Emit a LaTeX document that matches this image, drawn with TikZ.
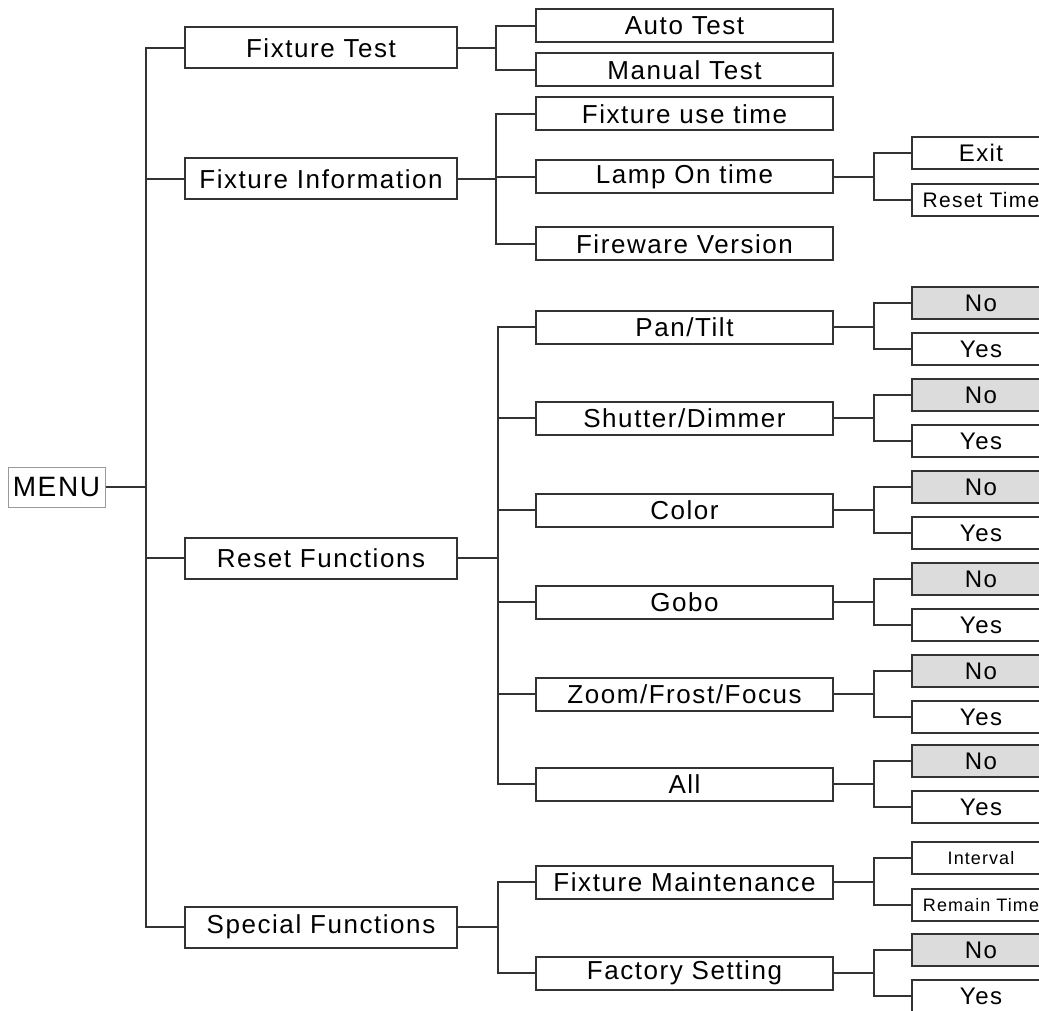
\documentclass[tikz,border=0pt]{standalone}
\usepackage{fontspec}
\setmainfont{Liberation Sans}[LetterSpace=6]
\usepackage{tikz}
\usetikzlibrary{positioning}
\definecolor{linegray}{HTML}{333333}
\definecolor{nogray}{HTML}{DCDCDC}
\tikzset{
  menubox/.style={rectangle,draw=black!40,line width=1pt,minimum width=97pt,minimum height=40pt,inner sep=0pt,font=\fontsize{28}{28}\selectfont},
  topbox/.style={rectangle,draw=linegray,line width=2pt,minimum width=272pt,minimum height=41pt,inner sep=0pt,font=\fontsize{26}{26}\selectfont},
  subbox/.style={rectangle,draw=linegray,line width=2pt,minimum width=297pt,minimum height=33pt,inner sep=0pt,font=\fontsize{26}{26}\selectfont},
  leafbox/.style={rectangle,draw=linegray,line width=2pt,minimum width=138pt,minimum height=32pt,inner sep=0pt,font=\fontsize{24}{24}\selectfont},
  nobox/.style={leafbox,fill=nogray},
  smallleaf/.style={leafbox,font=\fontsize{21}{21}\selectfont},
  tinyleaf/.style={leafbox,font=\fontsize{18}{18}\selectfont},
  link/.style={draw=linegray,line width=2pt}
}
\begin{document}
\begin{tikzpicture}[x=1pt,y=-1pt]
  \useasboundingbox (0,0) rectangle (1039,1011);
  \clip (0,0) rectangle (1039,1011);

  % main menu
  \node[menubox] (menu) at (56.5,487) {MENU};
  \node[topbox] (ftest) at (321,48) {Fixture Test};
  \node[topbox] (finfo) at (321,179) {Fixture Information};
  \node[topbox] (reset) at (321,558) {Reset Functions};
  \node[topbox] (special) at (321,927) {Special Functions};

  % second level
  \node[subbox] (auto) at (684.5,26) {Auto Test};
  \node[subbox] (manual) at (684.5,70) {Manual Test};
  \node[subbox] (usetime) at (684.5,114) {Fixture use time};
  \node[subbox] (lamp) at (684.5,177) {Lamp On time};
  \node[subbox] (firmware) at (684.5,244) {Fireware Version};
  \node[subbox] (pantilt) at (684.5,327) {Pan/Tilt};
  \node[subbox] (shutter) at (684.5,418) {Shutter/Dimmer};
  \node[subbox] (color) at (684.5,510) {Color};
  \node[subbox] (gobo) at (684.5,602) {Gobo};
  \node[subbox] (zoom) at (684.5,694) {Zoom/Frost/Focus};
  \node[subbox] (all) at (684.5,784) {All};
  \node[subbox] (maint) at (684.5,882) {Fixture Maintenance};
  \node[subbox] (factory) at (684.5,973) {Factory Setting};

  % third level
  \node[leafbox] (exit) at (981,153) {Exit};
  \node[smallleaf] (resettime) at (981,200) {Reset Time};
  \node[nobox] (ptno) at (981,303) {No};
  \node[leafbox] (ptyes) at (981,349) {Yes};
  \node[nobox] (shno) at (981,395) {No};
  \node[leafbox] (shyes) at (981,441) {Yes};
  \node[nobox] (colno) at (981,487) {No};
  \node[leafbox] (colyes) at (981,533) {Yes};
  \node[nobox] (gobono) at (981,579) {No};
  \node[leafbox] (goboyes) at (981,625) {Yes};
  \node[nobox] (zoomno) at (981,671) {No};
  \node[leafbox] (zoomyes) at (981,717) {Yes};
  \node[nobox] (allno) at (981,761) {No};
  \node[leafbox] (allyes) at (981,807) {Yes};
  \node[tinyleaf] (interval) at (981,858) {Interval};
  \node[tinyleaf] (remain) at (981,905) {Remain Time};
  \node[nobox] (facno) at (981,950) {No};
  \node[leafbox] (facyes) at (981,996) {Yes};

  % connectors
  \draw[link] (menu.east) -- ++(40,0) |- (ftest.west);
  \draw[link] (menu.east) -- ++(40,0) |- (finfo.west);
  \draw[link] (menu.east) -- ++(40,0) |- (reset.west);
  \draw[link] (menu.east) -- ++(40,0) |- (special.west);

  \draw[link] (ftest.east) -- ++(38,0) |- (auto.west);
  \draw[link] (ftest.east) -- ++(38,0) |- (manual.west);
  \draw[link] (finfo.east) -- ++(38,0) |- (usetime.west);
  \draw[link] (finfo.east) -- ++(38,0) |- (lamp.west);
  \draw[link] (finfo.east) -- ++(38,0) |- (firmware.west);
  \draw[link] (reset.east) -- ++(40,0) |- (pantilt.west);
  \draw[link] (reset.east) -- ++(40,0) |- (shutter.west);
  \draw[link] (reset.east) -- ++(40,0) |- (color.west);
  \draw[link] (reset.east) -- ++(40,0) |- (gobo.west);
  \draw[link] (reset.east) -- ++(40,0) |- (zoom.west);
  \draw[link] (reset.east) -- ++(40,0) |- (all.west);
  \draw[link] (special.east) -- ++(40,0) |- (maint.west);
  \draw[link] (special.east) -- ++(40,0) |- (factory.west);

  \draw[link] (lamp.east) -- ++(40,0) |- (exit.west);
  \draw[link] (lamp.east) -- ++(40,0) |- (resettime.west);
  \draw[link] (pantilt.east) -- ++(40,0) |- (ptno.west);
  \draw[link] (pantilt.east) -- ++(40,0) |- (ptyes.west);
  \draw[link] (shutter.east) -- ++(40,0) |- (shno.west);
  \draw[link] (shutter.east) -- ++(40,0) |- (shyes.west);
  \draw[link] (color.east) -- ++(40,0) |- (colno.west);
  \draw[link] (color.east) -- ++(40,0) |- (colyes.west);
  \draw[link] (gobo.east) -- ++(40,0) |- (gobono.west);
  \draw[link] (gobo.east) -- ++(40,0) |- (goboyes.west);
  \draw[link] (zoom.east) -- ++(40,0) |- (zoomno.west);
  \draw[link] (zoom.east) -- ++(40,0) |- (zoomyes.west);
  \draw[link] (all.east) -- ++(40,0) |- (allno.west);
  \draw[link] (all.east) -- ++(40,0) |- (allyes.west);
  \draw[link] (maint.east) -- ++(40,0) |- (interval.west);
  \draw[link] (maint.east) -- ++(40,0) |- (remain.west);
  \draw[link] (factory.east) -- ++(40,0) |- (facno.west);
  \draw[link] (factory.east) -- ++(40,0) |- (facyes.west);
\end{tikzpicture}
\end{document}
